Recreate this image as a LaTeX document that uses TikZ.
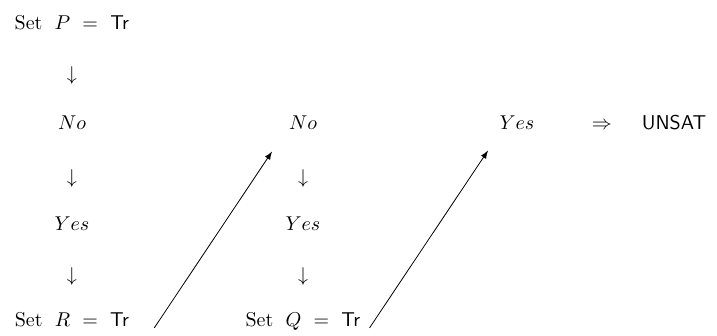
\documentclass[tikz,border=0pt]{standalone}
\usepackage{amsmath}
\usepackage{tikz}

\begin{document}
\begin{tikzpicture}[txt/.style={anchor=base}, jump/.style={-latex, thin}]
\useasboundingbox (0,0) rectangle (12.6,5.887);
% left column
\node[txt] (setP) at (1.265,5.360) {Set $\;P\ =\ \mathsf{Tr}$};
\node[txt] (d1) at (1.265,4.464) {$\downarrow$};
\node[txt] (no1) at (1.265,3.610) {$No$};
\node[txt] (d2) at (1.265,2.654) {$\downarrow$};
\node[txt] (yes1) at (1.265,1.845) {$Yes$};
\node[txt] (d3) at (1.265,0.949) {$\downarrow$};
\node[txt] (setR) at (1.265,0.141) {Set $\;R\ =\ \mathsf{Tr}$};
% middle column
\node[txt] (no2) at (5.325,3.610) {$No$};
\node[txt] (d4) at (5.325,2.654) {$\downarrow$};
\node[txt] (yes2) at (5.325,1.845) {$Yes$};
\node[txt] (d5) at (5.325,0.949) {$\downarrow$};
\node[txt] (setQ) at (5.325,0.141) {Set $\;Q\ =\ \mathsf{Tr}$};
% right part
\node[txt] (yes3) at (9.085,3.610) {$Yes$};
\node[txt] (imp) at (10.579,3.610) {$\Rightarrow$};
\node[txt] (unsat) at (11.844,3.610) {\textsf{UNSAT}};
% jumps
\draw[jump] ([xshift=9pt,yshift=-0.5pt]setR.base east) -- ([xshift=-15.5pt,yshift=-11pt]no2.base);
\draw[jump] ([xshift=1pt,yshift=-0.5pt]setQ.base east) -- ([xshift=-14.5pt,yshift=-10.5pt]yes3.base);
\end{tikzpicture}
\end{document}
